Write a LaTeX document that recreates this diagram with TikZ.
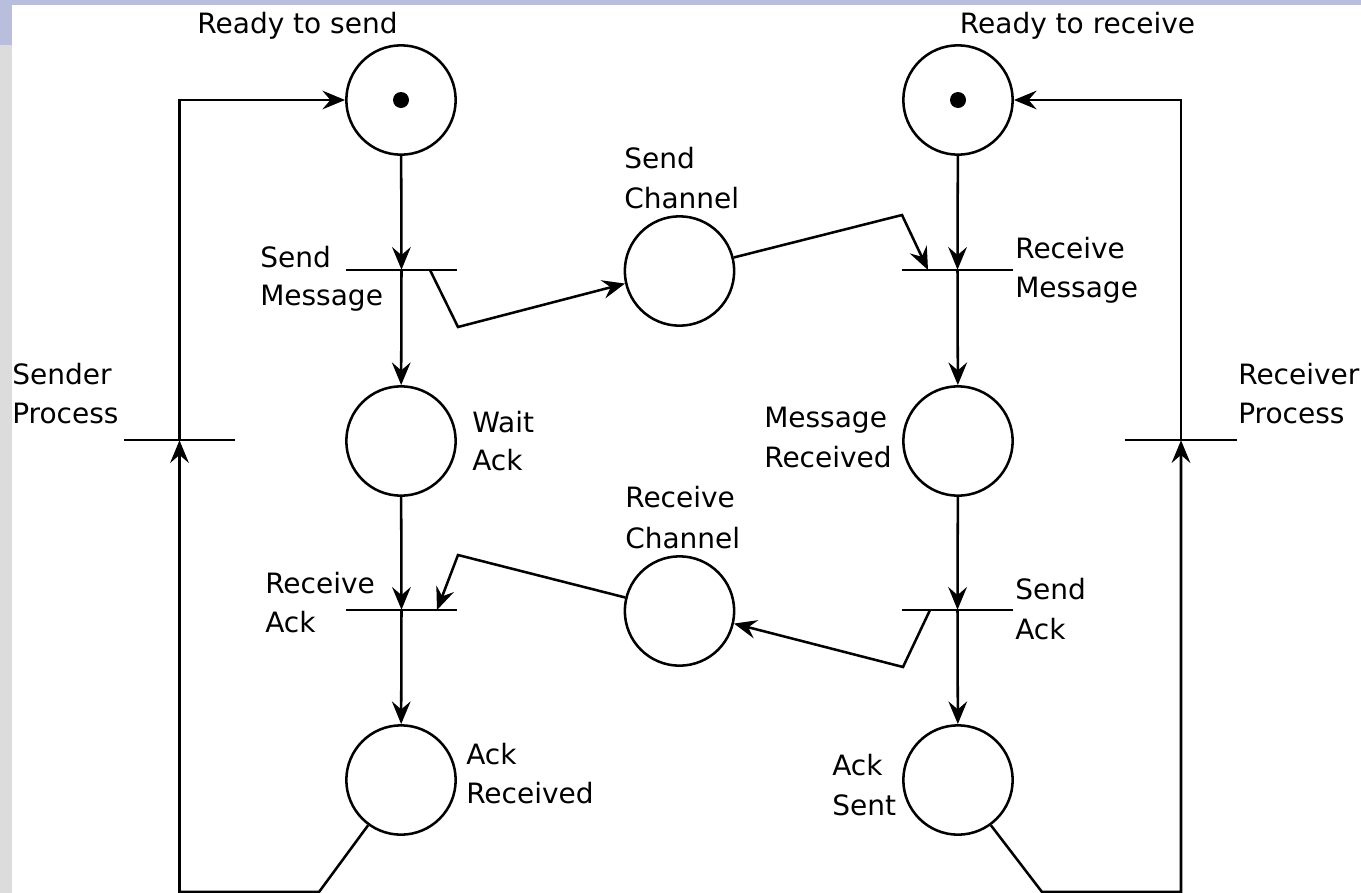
\documentclass[tikz,border=0pt]{standalone}
\usepackage{fontspec}
\setmainfont{DejaVu Sans}
\usetikzlibrary{arrows.meta,calc}

\definecolor{framebar}{HTML}{B8BEDC}
\definecolor{framegrey}{HTML}{DCDCDC}

\tikzset{
  place/.style={circle, draw, line width=1.9pt, minimum size=82pt, inner sep=0pt},
  trans/.style={rectangle, minimum width=83pt, minimum height=0pt, inner sep=0pt},
  bar/.style={line width=1.9pt},
  arc/.style={line width=1.9pt, -{Stealth[length=17pt, width=14pt, inset=6pt]}},
  token/.style={circle, fill, minimum size=12pt, inner sep=0pt},
  lbl/.style={font=\fontsize{21}{25}\selectfont, inner sep=0pt, text=black},
}

\begin{document}
\begin{tikzpicture}[x=0.75pt, y=-0.75pt]
  % page frame
  \useasboundingbox (0,0) rectangle (1361,893);
  \fill[white] (0,0) rectangle (1361,893);
  \fill[framebar] (0,0) rectangle (1361,5);
  \fill[framebar] (0,0) rectangle (12,45);
  \fill[framegrey] (0,45) rectangle (12,893);

  % places
  \node[place] (rs) at (401,100) {};
  \node[place] (rr) at (958,100) {};
  \node[place] (sc) at (679.5,271) {};
  \node[place] (wa) at (401,441) {};
  \node[place] (mr) at (958,441) {};
  \node[place] (rc) at (679.5,611) {};
  \node[place] (ar) at (401,780) {};
  \node[place] (as) at (958,780) {};
  \node[token] (rst) at (rs) {};
  \node[token] (rrt) at (rr) {};

  % transitions
  \node[trans] (sm) at (401.5,270) {};
  \node[trans] (rm) at (957.5,270) {};
  \node[trans] (ra) at (401.5,610) {};
  \node[trans] (sa) at (957.5,610) {};
  \node[trans] (sp) at (179.5,440) {};
  \node[trans] (rp) at (1181,440) {};
  \foreach \t in {sm,rm,ra,sa,sp,rp}
    \draw[bar] (\t.west) -- (\t.east);

  % sender side
  \draw[arc] (rs) -- (sm);
  \draw[arc] (sm) -- (wa);
  \draw[arc] (wa) -- (ra);
  \draw[arc] (ra) -- (ar);
  % receiver side
  \draw[arc] (rr) -- (rm);
  \draw[arc] (rm) -- (mr);
  \draw[arc] (mr) -- (sa);
  \draw[arc] (sa) -- (as);

  % channels
  \draw[arc] ($(sm)+(28.5,0)$) -- (458,327) -- (sc.193);
  \draw[arc] (sc.14) -- (902,215) -- ($(rm)+(-29.5,0)$);
  \draw[arc] ($(sa)+(-27.5,0)$) -- (903,667) -- (rc.-13);
  \draw[arc] (rc.166) -- (458,555) -- ($(ra)+(35.5,0)$);

  % process loops
  \draw[arc] (ar.234) -- (319,892) -- (179.5,892) -- (sp);
  \draw[arc] (sp) -- (179.5,100) -- (rs);
  \draw[arc] (as.-54) -- (1042,892) -- (1181,892) -- (rp);
  \draw[arc] (rp) -- (1181,100) -- (rr);

  % labels
  \node[lbl, anchor=base] (t-rs) at (297.5,33) {Ready to send};
  \node[lbl, anchor=base] (t-rr) at (1077.5,33) {Ready to receive};
  \node[lbl, anchor=base west] (t-sc1) at (624,168) {Send};
  \node[lbl, anchor=base west] (t-sc2) at (624,208) {Channel};
  \node[lbl, anchor=base west] (t-sm1) at (260,267) {Send};
  \node[lbl, anchor=base west] (t-sm2) at (260,305) {Message};
  \node[lbl, anchor=base west] (t-rm1) at (1015,258) {Receive};
  \node[lbl, anchor=base west] (t-rm2) at (1015,297) {Message};
  \node[lbl, anchor=base west] (t-sp1) at (12,384) {Sender};
  \node[lbl, anchor=base west] (t-sp2) at (12,423) {Process};
  \node[lbl, anchor=base west] (t-rp1) at (1238,384) {Receiver};
  \node[lbl, anchor=base west] (t-rp2) at (1238,423) {Process};
  \node[lbl, anchor=base west] (t-wa1) at (472,432) {Wait};
  \node[lbl, anchor=base west] (t-wa2) at (472,470) {Ack};
  \node[lbl, anchor=base west] (t-mr1) at (764,427) {Message};
  \node[lbl, anchor=base west] (t-mr2) at (764,467) {Received};
  \node[lbl, anchor=base west] (t-rc1) at (625,507) {Receive};
  \node[lbl, anchor=base west] (t-rc2) at (625,548) {Channel};
  \node[lbl, anchor=base west] (t-ra1) at (265,593) {Receive};
  \node[lbl, anchor=base west] (t-ra2) at (265,632) {Ack};
  \node[lbl, anchor=base west] (t-sa1) at (1015,599) {Send};
  \node[lbl, anchor=base west] (t-sa2) at (1015,639) {Ack};
  \node[lbl, anchor=base west] (t-ar1) at (466,764) {Ack};
  \node[lbl, anchor=base west] (t-ar2) at (466,803) {Received};
  \node[lbl, anchor=base west] (t-as1) at (832,775) {Ack};
  \node[lbl, anchor=base west] (t-as2) at (832,815) {Sent};
\end{tikzpicture}
\end{document}
